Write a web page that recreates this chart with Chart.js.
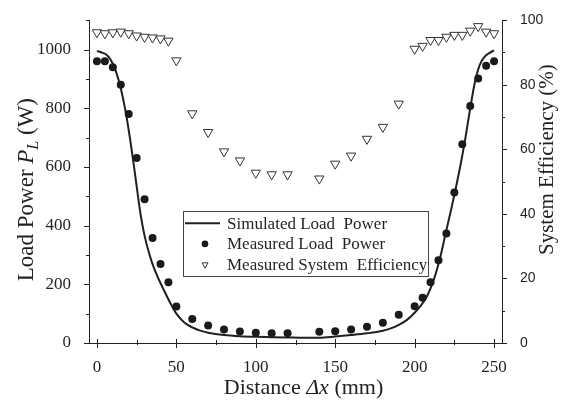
<!DOCTYPE html>
<html><head><meta charset="utf-8">
<script src="https://cdn.jsdelivr.net/npm/chart.js@4/dist/chart.umd.min.js"></script>
<style>html,body{margin:0;padding:0;background:#fff}</style>
</head><body>
<canvas id="c" width="567" height="402" style="display:block;width:567px;height:402px"></canvas>
<script>
// ---- data ----
const simDistance = [0,3,6,9,12,15,18,21,24,27,30,34,38,42,46,50,55,60,65,70,80,90,100,110,120,130,140,150,160,170,180,185,190,195,200,204,208,212,216,220,223,226,229,232,235,238,241,244,247,250];
const simPower    = [995,990,982,962,925,868,790,690,575,455,365,285,228,182,138,100,70,53,42,35,27,23,21,20,19,18,18,22,27,33,42,50,62,78,103,128,162,215,290,385,455,530,610,700,800,890,948,975,988,997];
const measDistance   = [0,5,10,15,20,25,30,35,40,45,50,60,70,80,90,100,110,120,140,150,160,170,180,190,200,205,210,215,220,225,230,235,240,245,250];
const measPower      = [960,960,940,880,780,630,490,358,269,207,124,82,60,46,39,35,33,33,38,40,46,55,69,96,125,154,207,282,373,513,677,808,901,945,960];
const measEfficiency = [96.2,95.9,96.2,96.4,95.9,95.2,94.8,94.6,94.3,93.6,87.5,71.1,65.3,59.3,56.5,52.7,52.2,52.2,50.9,55.5,58.0,63.2,66.9,74.1,91.1,92.0,93.8,93.8,94.8,95.4,95.4,96.7,98.1,96.4,95.9];
const xTickLabels     = [0,50,100,150,200,250];
const powerTickLabels = [0,200,400,600,800,1000];
const effTickLabels   = [0,20,40,60,80,100];
const seriesLabels = ['Simulated Load  Power','Measured Load  Power','Measured System  Efficiency'];

const INK = '#231f20';
const SERIF = '"Liberation Serif", "Times New Roman", serif';
const SANS = '"Liberation Sans", Arial, sans-serif';

const pts = (xs, ys) => xs.map((x, i) => ({x, y: ys[i]}));

function drawRich(ctx, parts, cx, baseY, rot) {
  ctx.save();
  ctx.translate(cx, baseY);
  ctx.rotate(rot);
  ctx.textAlign = 'left';
  ctx.textBaseline = 'alphabetic';
  ctx.fillStyle = INK;
  let total = 0;
  parts.forEach(p => { ctx.font = p.font; p.w = ctx.measureText(p.text).width; total += p.w; });
  let x = -total / 2;
  parts.forEach(p => { ctx.font = p.font; ctx.fillText(p.text, x, p.dy || 0); x += p.w; });
  ctx.restore();
}

const decor = {
  id: 'decor',
  afterDraw(chart) {
    const ctx = chart.ctx, ca = chart.chartArea;
    const sx = chart.scales.x, sy = chart.scales.y, sy2 = chart.scales.y2;
    ctx.save();
    ctx.strokeStyle = INK; ctx.lineWidth = 1;
    ctx.beginPath();
    for (let v = 0; v <= 250; v += 25) {
      const px = Math.round(sx.getPixelForValue(v)) + 0.5;
      const major = v % 50 === 0;
      ctx.moveTo(px, ca.bottom - (major ? 4 : 3));
      ctx.lineTo(px, ca.bottom + (major ? 5 : 2));
    }
    for (let v = 0; v <= 1100; v += 100) {
      const py = Math.round(sy.getPixelForValue(v)) + 0.5;
      const major = v % 200 === 0;
      ctx.moveTo(ca.left, py); ctx.lineTo(ca.left - (major ? 5 : 3), py);
    }
    for (let v = 0; v <= 100; v += 10) {
      const py = Math.round(sy2.getPixelForValue(v)) + 0.5;
      const major = v % 20 === 0;
      ctx.moveTo(ca.right, py); ctx.lineTo(ca.right + (major ? 5 : 3), py);
    }
    ctx.stroke();

    // axis titles (for rotated titles the first coordinate is the baseline x)
    const lt = '23px ' + SERIF, ltI = 'italic 23px ' + SERIF, sub = 'italic 16px ' + SERIF;
    drawRich(ctx, [
      {text: 'Load Power ', font: lt},
      {text: 'P', font: ltI},
      {text: 'L', font: sub, dy: 5},
      {text: ' (W)', font: lt}
    ], 33, (ca.top + ca.bottom) / 2 + 8, -Math.PI / 2);
    drawRich(ctx, [{text: 'System Efficiency (%)', font: '21px ' + SERIF}], ca.right + 51, (ca.top + ca.bottom) / 2 - 22, -Math.PI / 2);
    const bt = '22px ' + SERIF, btI = 'italic 22px ' + SERIF;
    drawRich(ctx, [
      {text: 'Distance ', font: bt},
      {text: '\u0394x', font: btI},
      {text: ' (mm)', font: bt}
    ], (ca.left + ca.right) / 2 + 8, ca.bottom + 51, 0);

    // legend
    const lx = ca.left + 94, ly = ca.top + 191, lw = 245, lh = 65;
    ctx.strokeStyle = '#444'; ctx.lineWidth = 1;
    ctx.strokeRect(Math.round(lx) + 0.5, Math.round(ly) + 0.5, lw, lh);
    ctx.font = '17px ' + SERIF; ctx.textBaseline = 'middle'; ctx.textAlign = 'left';
    chart.data.datasets.forEach((ds, i) => {
      const ry = ly + 12 + i * 20.7;
      if (ds.showLine) {
        ctx.strokeStyle = INK; ctx.lineWidth = 2;
        ctx.beginPath(); ctx.moveTo(lx + 2, ry); ctx.lineTo(lx + 37, ry); ctx.stroke();
      } else {
        ctx.fillStyle = ds.backgroundColor; ctx.strokeStyle = ds.borderColor; ctx.lineWidth = ds.borderWidth || 0.01;
        Chart.helpers.drawPoint(ctx, {pointStyle: ds.pointStyle, rotation: ds.rotation || 0, radius: ds.pointStyle === 'triangle' ? 3.5 : 3.3, borderWidth: ds.borderWidth || 0}, lx + 22, ry);
      }
      ctx.fillStyle = INK;
      ctx.fillText(ds.label, lx + 44, ry + 1);
    });
    ctx.restore();
  }
};

const plain = v => String(v);

new Chart(document.getElementById('c'), {
  type: 'scatter',
  data: {
    datasets: [
      {label: seriesLabels[0], data: pts(simDistance, simPower), showLine: true, borderColor: INK, borderWidth: 2,
       pointRadius: 0, cubicInterpolationMode: 'monotone', yAxisID: 'y', order: 3},
      {label: seriesLabels[1], data: pts(measDistance, measPower), pointStyle: 'circle', pointRadius: 4,
       backgroundColor: '#1a1a1a', borderColor: '#1a1a1a', borderWidth: 0, yAxisID: 'y', order: 2},
      {label: seriesLabels[2], data: pts(measDistance, measEfficiency), pointStyle: 'triangle', rotation: 180, pointRadius: 5.4,
       backgroundColor: '#ffffff', borderColor: '#333', borderWidth: 1, yAxisID: 'y2', order: 1}
    ]
  },
  options: {
    responsive: false, animation: false, devicePixelRatio: 1,
    layout: {padding: {top: 13, left: 0, right: 0, bottom: 0}},
    plugins: {legend: {display: false}, tooltip: {enabled: false}},
    scales: {
      x: {type: 'linear', min: -5, max: 255,
          afterBuildTicks: s => { s.ticks = xTickLabels.map(v => ({value: v})); },
          afterFit: s => { s.height = 59; },
          grid: {display: false}, border: {display: true, color: INK, width: 1},
          ticks: {padding: 6, color: INK, font: {family: SERIF, size: 17}, maxRotation: 0, autoSkip: false, callback: plain}},
      y: {type: 'linear', position: 'left', min: 0, max: 1100,
          afterBuildTicks: s => { s.ticks = powerTickLabels.map(v => ({value: v})); },
          afterFit: s => { s.width = 89; },
          grid: {display: false}, border: {display: true, color: INK, width: 1},
          ticks: {padding: 10, color: INK, font: {family: SERIF, size: 17}, callback: plain}},
      y2: {type: 'linear', position: 'right', min: 0, max: 100,
          afterBuildTicks: s => { s.ticks = effTickLabels.map(v => ({value: v})); },
          afterFit: s => { s.width = 65; },
          grid: {display: false}, border: {display: true, color: INK, width: 1},
          ticks: {padding: 10, color: INK, font: {family: SANS, size: 14}, callback: plain}}
    }
  },
  plugins: [decor]
});
</script>
</body></html>
